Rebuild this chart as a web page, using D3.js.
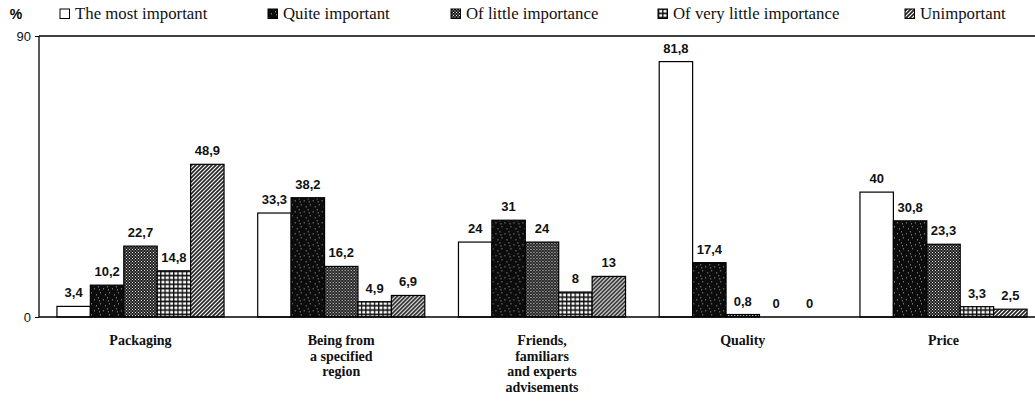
<!DOCTYPE html>
<html>
<head>
<meta charset="utf-8">
<script src="https://cdn.jsdelivr.net/npm/d3@7"></script>
<style>
  html, body { margin: 0; padding: 0; background: #fff; }
  svg { display: block; }
</style>
</head>
<body>
<svg id="chart" width="1035" height="402"></svg>
<script>
const categories = ["Packaging", "Being from\na specified\nregion", "Friends,\nfamiliars\nand experts\nadvisements", "Quality", "Price"];
const seriesNames = ["The most important", "Quite important", "Of little importance", "Of very little importance", "Unimportant"];
const mostImportant = [3.4, 33.3, 24, 81.8, 40];
const quiteImportant = [10.2, 38.2, 31, 17.4, 30.8];
const littleImportance = [22.7, 16.2, 24, 0.8, 23.3];
const veryLittleImportance = [14.8, 4.9, 8, 0, 3.3];
const unimportant = [48.9, 6.9, 13, 0, 2.5];
const yTicks = [0, 90];

const series = [mostImportant, quiteImportant, littleImportance, veryLittleImportance, unimportant];
const SERIF = '"Liberation Serif"';
const SANS = '"Liberation Sans"';

const svg = d3.select("#chart");
const defs = svg.append("defs");

// patterns
const p1 = defs.append("pattern").attr("id", "pat1").attr("patternUnits", "userSpaceOnUse").attr("width", 9).attr("height", 11);
p1.append("rect").attr("width", 9).attr("height", 11).attr("fill", "#0c0c0c");
[[1,2],[5,0],[7,6],[3,8],[6,3]].forEach(([x,y]) => p1.append("rect").attr("x", x).attr("y", y).attr("width", 1).attr("height", 1.5).attr("fill", "#777"));
const p2 = defs.append("pattern").attr("id", "pat2").attr("patternUnits", "userSpaceOnUse").attr("width", 3).attr("height", 3);
p2.append("rect").attr("width", 3).attr("height", 3).attr("fill", "#1a1a1a");
p2.append("rect").attr("x", 0).attr("y", 0).attr("width", 1).attr("height", 1).attr("fill", "#eee");
p2.append("rect").attr("x", 1.5).attr("y", 1.5).attr("width", 1).attr("height", 1).attr("fill", "#eee");
const p3 = defs.append("pattern").attr("id", "pat3").attr("patternUnits", "userSpaceOnUse").attr("width", 4.3).attr("height", 4.3);
p3.append("rect").attr("width", 4.3).attr("height", 4.3).attr("fill", "#111");
p3.append("rect").attr("x", 1.3).attr("y", 1.3).attr("width", 3).attr("height", 2.6).attr("fill", "#fff");
const p4 = defs.append("pattern").attr("id", "pat4").attr("patternUnits", "userSpaceOnUse").attr("width", 4).attr("height", 4);
p4.append("rect").attr("width", 4).attr("height", 4).attr("fill", "#fff");
p4.append("path").attr("d", "M-1,1 L1,-1 M0,4 L4,0 M3,5 L5,3").attr("stroke", "#222").attr("stroke-width", 1.7);

const fills = ["#fff", "url(#pat1)", "url(#pat2)", "url(#pat3)", "url(#pat4)"];

const x0 = d3.scaleBand().domain(categories).range([39, 1045]).paddingInner(0.1677).paddingOuter(0.0894);
const x1 = d3.scaleBand().domain(d3.range(seriesNames.length)).range([0, x0.bandwidth()]);
const y = d3.scaleLinear().domain([0, 90]).range([317, 36]);

svg.append("line").attr("x1", 39).attr("x2", 1035).attr("y1", y(90)).attr("y2", y(90)).attr("stroke", "#000").attr("stroke-width", 1.3);

const groups = svg.append("g").selectAll("g").data(categories).join("g")
  .attr("transform", d => `translate(${x0(d)},0)`);

groups.each(function(cat, ci) {
  const g = d3.select(this);
  series.forEach((s, si) => {
    const v = s[ci];
    if (v > 0) {
      g.append("rect")
        .attr("x", x1(si)).attr("y", y(v))
        .attr("width", x1.bandwidth()).attr("height", y(0) - y(v))
        .attr("fill", fills[si]).attr("stroke", "#000").attr("stroke-width", 1.2);
    }
    g.append("text")
      .attr("x", x1(si) + x1.bandwidth() / 2)
      .attr("y", y(v) - 9)
      .attr("text-anchor", "middle")
      .style("font-family", SANS)
      .style("font-weight", "bold")
      .style("font-size", "13px")
      .attr("fill", "#111")
      .text(String(v).replace(".", ","));
  });
});

const yAxis = d3.axisLeft(y).tickValues(yTicks).tickSize(4).tickFormat(d3.format("d"));
const ya = svg.append("g").attr("transform", "translate(39,0)").call(yAxis);
ya.select(".domain").attr("stroke", "#000").attr("stroke-width", 1.3).attr("d", `M0,${y(90)}V${y(0)}`);
ya.selectAll(".tick line").attr("stroke", "#000");
ya.selectAll(".tick text").style("font-family", SANS).style("font-size", "13px").attr("fill", "#111").attr("x", -8);

svg.append("line").attr("x1", 39).attr("x2", 1035).attr("y1", y(0)).attr("y2", y(0)).attr("stroke", "#000").attr("stroke-width", 1.3);

svg.append("text").attr("x", 16).attr("y", 19).attr("text-anchor", "middle")
  .style("font-family", SANS).style("font-weight", "bold").style("font-size", "14px").text("%");

const xa = svg.append("g");
categories.forEach(c => {
  const lines = c.split("\n");
  const t = xa.append("text")
    .attr("text-anchor", "middle")
    .style("font-family", SERIF)
    .style("font-weight", "bold")
    .style("font-size", "14px")
    .attr("fill", "#111");
  lines.forEach((l, i) => {
    t.append("tspan").attr("x", x0(c) + x0.bandwidth() / 2).attr("y", 345 + i * 15.5).text(l);
  });
});

const legendX = [60, 268, 451, 658, 905];
const leg = svg.append("g");
seriesNames.forEach((n, i) => {
  leg.append("rect").attr("x", legendX[i]).attr("y", 9).attr("width", 9.5).attr("height", 9.5)
    .attr("fill", fills[i]).attr("stroke", "#000").attr("stroke-width", 1);
  leg.append("text").attr("x", legendX[i] + 15).attr("y", 19)
    .style("font-family", SERIF)
    .style("font-size", "16.8px").attr("fill", "#111").text(n);
});
</script>
</body>
</html>
